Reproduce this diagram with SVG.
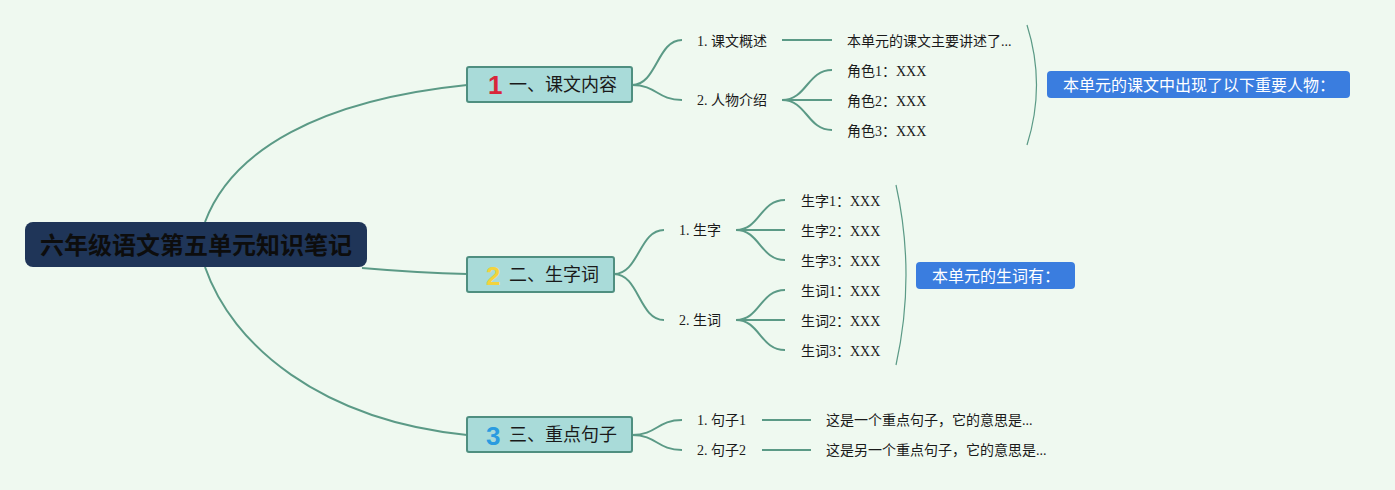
<svg xmlns="http://www.w3.org/2000/svg" width="1395" height="490" viewBox="0 0 1395 490">
<style>
.bg{fill:#eff9f0}
.c{fill:none;stroke:#5b9a86;stroke-width:2}
.b{fill:none;stroke:#5b9a86;stroke-width:1.2}
.main{fill:#a9dbd9;stroke:#4f8f80;stroke-width:2}
.mt{font-family:"Noto Sans CJK SC","Noto Sans",sans-serif;font-size:18px;fill:#1a1a1a}
.num{font-family:"Liberation Sans",Arial,sans-serif;font-weight:bold;font-size:26px}
.t{font-family:"Liberation Serif","Noto Sans CJK SC",serif;font-size:14px;fill:#1a1a1a}
.sum{fill:#3a7ddf}
.st{font-family:"Noto Sans CJK SC","Noto Sans",sans-serif;font-size:16px;fill:#ffffff}
</style>
<rect class="bg" x="0" y="0" width="1395" height="490"/>
<g id="connectors">
<path class="c" d="M205,222 C232,150 320,100 467,85"/>
<path class="c" d="M362,268 Q420,273 467,274"/>
<path class="c" d="M205,267 C232,345 320,420 467,435"/>
<path class="c" d="M632,85 C657,85 657,40 682,40"/>
<path class="c" d="M632,85 C657,85 657,100 682,100"/>
<path class="c" d="M782,40 L832,40"/>
<path class="c" d="M782,100 C807,100 807,70 832,70"/>
<path class="c" d="M782,100 L832,100"/>
<path class="c" d="M782,100 C807,100 807,130 832,130"/>
<path class="c" d="M614,274 C639,274 639,230 664,230"/>
<path class="c" d="M614,274 C639,274 639,320 664,320"/>
<path class="c" d="M736,230 C760,230 760,200 785,200"/>
<path class="c" d="M736,230 L785,230"/>
<path class="c" d="M736,230 C760,230 760,260 785,260"/>
<path class="c" d="M736,320 C760,320 760,290 785,290"/>
<path class="c" d="M736,320 L785,320"/>
<path class="c" d="M736,320 C760,320 760,350 785,350"/>
<path class="c" d="M632,435 C657,435 657,420 682,420"/>
<path class="c" d="M632,435 C657,435 657,450 682,450"/>
<path class="c" d="M762,420 L811,420"/>
<path class="c" d="M762,450 L811,450"/>
<path class="b" d="M1027,25 Q1046,85 1027,145"/>
<path class="b" d="M896,185 Q916,275 896,365"/>
</g>
<g id="root">
<rect x="25" y="222" width="342" height="45" rx="8" fill="#1f3558"/>
<text x="196" y="254" text-anchor="middle" font-family="'Noto Sans CJK SC',sans-serif" font-weight="bold" font-size="24" fill="#0d0d0d">六年级语文第五单元知识笔记</text>
</g>
<g id="branch1">
<rect class="main" x="467" y="67" width="165" height="35" rx="2"/>
<text class="num" x="488" y="94" fill="#d8263a">1</text>
<text class="mt" x="509" y="91">一、课文内容</text>
</g>
<g id="branch2">
<rect class="main" x="467" y="257" width="147" height="35" rx="2"/>
<text class="num" x="486" y="285" fill="#f2d33e">2</text>
<text class="mt" x="509" y="281">二、生字词</text>
</g>
<g id="branch3">
<rect class="main" x="467" y="417" width="165" height="35" rx="2"/>
<text class="num" x="486" y="445" fill="#2a9be0">3</text>
<text class="mt" x="509" y="441">三、重点句子</text>
</g>
<g id="n1-1"><text class="t" x="697" y="46">1. 课文概述</text></g>
<g id="n1-1a"><text class="t" x="847" y="46">本单元的课文主要讲述了...</text></g>
<g id="n1-2"><text class="t" x="697" y="105">2. 人物介绍</text></g>
<g id="n1-2a"><text class="t" x="847" y="76">角色1：XXX</text></g>
<g id="n1-2b"><text class="t" x="847" y="106">角色2：XXX</text></g>
<g id="n1-2c"><text class="t" x="847" y="136">角色3：XXX</text></g>
<g id="sum1">
<rect class="sum" x="1047" y="71" width="303" height="27" rx="4"/>
<text class="st" x="1063" y="90.5">本单元的课文中出现了以下重要人物：</text>
</g>
<g id="n2-1"><text class="t" x="679" y="235">1. 生字</text></g>
<g id="n2-1a"><text class="t" x="801" y="206">生字1：XXX</text></g>
<g id="n2-1b"><text class="t" x="801" y="236">生字2：XXX</text></g>
<g id="n2-1c"><text class="t" x="801" y="266">生字3：XXX</text></g>
<g id="n2-2"><text class="t" x="679" y="325">2. 生词</text></g>
<g id="n2-2a"><text class="t" x="801" y="296">生词1：XXX</text></g>
<g id="n2-2b"><text class="t" x="801" y="326">生词2：XXX</text></g>
<g id="n2-2c"><text class="t" x="801" y="356">生词3：XXX</text></g>
<g id="sum2">
<rect class="sum" x="916" y="262" width="159" height="27" rx="4"/>
<text class="st" x="932" y="281.5">本单元的生词有：</text>
</g>
<g id="n3-1"><text class="t" x="697" y="425">1. 句子1</text></g>
<g id="n3-1a"><text class="t" x="826" y="425">这是一个重点句子，它的意思是...</text></g>
<g id="n3-2"><text class="t" x="697" y="455">2. 句子2</text></g>
<g id="n3-2a"><text class="t" x="826" y="455">这是另一个重点句子，它的意思是...</text></g>
</svg>
